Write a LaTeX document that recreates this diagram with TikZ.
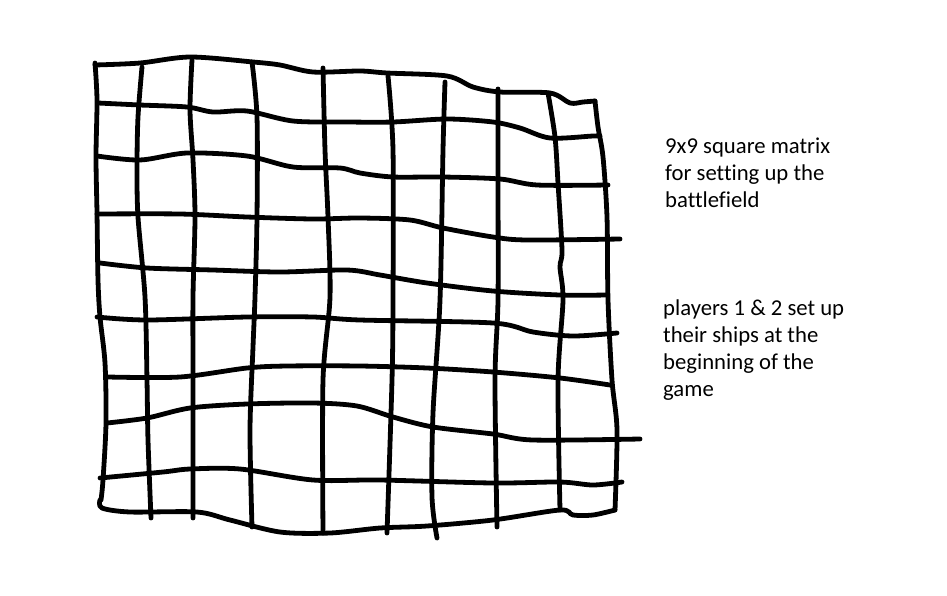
\documentclass[tikz,border=0pt]{standalone}
\usepackage{fontspec}
\setmainfont{Carlito}[Ligatures=NoCommon]
\begin{document}
\begin{tikzpicture}[x=1pt,y=-1pt,
  stroke/.style={line width=4.8pt,line cap=round,line join=round,black},
  note/.style={font=\fontsize{22.7}{27}\selectfont,align=left,anchor=base west,inner sep=0pt}]
\useasboundingbox[fill=white] (0,0) rectangle (947,595);
% horizontal strokes
\draw[stroke] plot[smooth,tension=0.5] coordinates {(95,65) (140,63) (190,57) (253,62) (280,65) (313,72) (360,71) (387,73) (447,76) (473,87) (500,92) (550,93) (570,103) (583,102) (595,101)};
\draw[stroke] plot[smooth,tension=0.5] coordinates {(98,103) (140,105) (187,107) (213,112) (247,111) (293,121) (347,122) (393,122) (447,119) (493,122) (520,128) (550,138) (593,136) (600,136)};
\draw[stroke] plot[smooth,tension=0.5] coordinates {(97,156) (140,160) (187,153) (247,156) (293,167) (340,168) (360,173) (393,177) (443,177) (500,179) (537,185) (608,185)};
\draw[stroke] plot[smooth,tension=0.5] coordinates {(97,214) (180,214) (247,217) (313,219) (360,218) (410,220) (443,228) (493,237) (527,240) (620,239)};
\draw[stroke] plot[smooth,tension=0.5] coordinates {(100,263) (147,268) (213,270) (280,272) (347,270) (380,275) (427,283) (493,291) (560,295) (607,295)};
\draw[stroke] plot[smooth,tension=0.5] coordinates {(97,317) (147,320) (247,317) (313,317) (360,320) (493,323) (533,332) (573,336) (617,333)};
\draw[stroke] plot[smooth,tension=0.5] coordinates {(108,377) (180,377) (247,368) (287,366) (360,366) (427,368) (493,372) (560,378) (610,385)};
\draw[stroke] plot[smooth,tension=0.5] coordinates {(107,423) (147,418) (190,408) (247,404) (313,403) (357,406) (393,417) (433,427) (493,434) (533,440) (640,439)};
\draw[stroke] plot[smooth,tension=0.5] coordinates {(100,478) (163,472) (190,469) (240,469) (313,480) (380,480) (493,483) (560,482) (593,485) (622,482)};
\draw[stroke] plot[smooth,tension=0.5] coordinates {(100,500) (102,508) (130,512) (197,512) (230,520) (280,532) (330,533) (380,528) (427,526) (493,520) (560,510) (573,515) (593,515) (615,510)};
% vertical strokes
\draw[stroke] plot[smooth,tension=0.5] coordinates {(95,63) (97,100) (96,157) (97,213) (98,280) (100,317) (105,363) (106,423) (103,480) (101,500)};
\draw[stroke] plot[smooth,tension=0.5] coordinates {(142,67) (138,117) (137,167) (138,217) (145,297) (147,380) (148,440) (151,518)};
\draw[stroke] plot[smooth,tension=0.5] coordinates {(192,60) (190,110) (193,160) (195,217) (193,297) (193,380) (193,518)};
\draw[stroke] plot[smooth,tension=0.5] coordinates {(252,62) (257,117) (257,217) (255,297) (253,347) (250,430) (252,527)};
\draw[stroke] plot[smooth,tension=0.5] coordinates {(323,68) (325,150) (328,217) (330,297) (323,380) (323,533)};
\draw[stroke] plot[smooth,tension=0.5] coordinates {(388,76) (393,150) (393,300) (392,380) (387,533)};
\draw[stroke] plot[smooth,tension=0.5] coordinates {(445,82) (443,150) (440,300) (433,413) (432,497) (437,538)};
\draw[stroke] plot[smooth,tension=0.5] coordinates {(498,89) (498,183) (498,300) (495,380) (497,527)};
\draw[stroke] plot[smooth,tension=0.5] coordinates {(548,93) (555,137) (558,183) (562,250) (560,267) (563,300) (558,380) (560,510)};
\draw[stroke] plot[smooth,tension=0.5] coordinates {(595,101) (598,127) (603,157) (607,217) (608,300) (612,380) (617,430) (615,510)};
% notes (anchor = baseline of last line)
\node[note] (matrixnote) at (665,207) {9x9 square matrix\\for setting up the\\battlefield};
\node[note] (playersnote) at (663,396) {players 1 \& 2 set up\\their ships at the\\beginning of the\\game};
\end{tikzpicture}
\end{document}
